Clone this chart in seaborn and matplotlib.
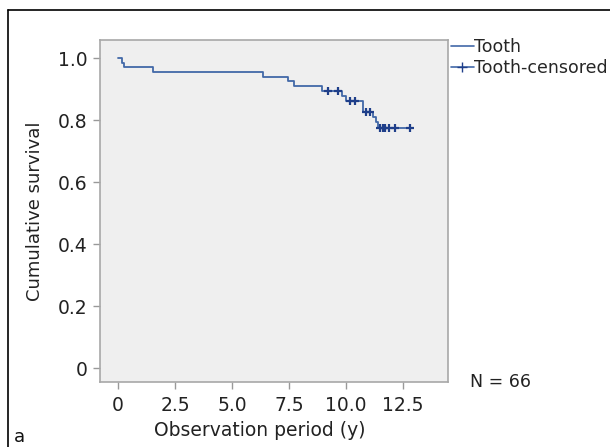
import matplotlib
matplotlib.use("Agg")
import matplotlib.pyplot as plt
import numpy as np
import pandas as pd
import seaborn as sns
from matplotlib.lines import Line2D

# Kaplan-Meier steps
STEP_TIMES = [0.0, 0.16, 0.26, 1.52, 6.36, 7.46, 7.72, 8.97, 9.85, 10.0, 10.76, 11.2, 11.3, 11.42, 12.9]
SURVIVAL = [1.0, 0.985, 0.970, 0.955, 0.940, 0.925, 0.910, 0.895, 0.877, 0.860, 0.825, 0.809, 0.795, 0.774, 0.774]
# censored observations
CENSOR_TIMES = [9.22, 9.66, 10.18, 10.39, 10.88, 11.05, 11.49, 11.61, 11.71, 11.9, 12.15, 12.81]

X_TICKS = [0, 2.5, 5.0, 7.5, 10.0, 12.5]
X_TICK_LABELS = ["0", "2.5", "5.0", "7.5", "10.0", "12.5"]
Y_TICKS = [0, 0.2, 0.4, 0.6, 0.8, 1.0]
Y_TICK_LABELS = ["0", "0.2", "0.4", "0.6", "0.8", "1.0"]

LINE_COLOR = "#4268a8"
MARK_COLOR = "#1f3f8a"

sns.set_style("white")
plt.rcParams["font.family"] = ["DejaVu Sans"]

steps = pd.DataFrame({"time": STEP_TIMES, "survival": SURVIVAL})
idx = np.searchsorted(STEP_TIMES, CENSOR_TIMES, side="right") - 1
censored = pd.DataFrame({"time": CENSOR_TIMES,
                         "survival": [SURVIVAL[i] for i in idx]})

fig = plt.figure(figsize=(6.10, 4.47), dpi=100)
ax = fig.add_axes([0.164, 0.1454, 0.570, 0.765])
ax.set_facecolor("#efefef")

sns.lineplot(data=steps, x="time", y="survival", drawstyle="steps-post",
             estimator=None, sort=False, color=LINE_COLOR, linewidth=1.3, ax=ax)
sns.scatterplot(data=censored, x="time", y="survival", marker="+", s=40,
                color=MARK_COLOR, linewidth=1.6, ax=ax, zorder=3)

ax.set_xlim(-0.79, 14.47)
ax.set_ylim(-0.045, 1.058)
ax.set_xticks(X_TICKS)
ax.set_xticklabels(X_TICK_LABELS)
ax.set_yticks(Y_TICKS)
ax.set_yticklabels(Y_TICK_LABELS)
ax.tick_params(axis="both", labelsize=13.5, colors="#999999", length=5,
               width=1, direction="out", labelcolor="#222222", left=True, bottom=True)
ax.tick_params(axis="x", pad=5)
ax.tick_params(axis="y", pad=4)

for spine in ax.spines.values():
    spine.set_color("#a8a8a8")
    spine.set_linewidth(1.2)

ax.set_xlabel("Observation period (y)", fontsize=13.5, color="#222222")
ax.xaxis.set_label_coords(0.46, -0.115)
ax.set_ylabel("Cumulative survival", fontsize=13, color="#222222")
ax.yaxis.set_label_coords(-0.16, 0.5)

handles = [Line2D([], [], color=LINE_COLOR, linewidth=1.2),
           Line2D([], [], color=LINE_COLOR, linewidth=1.2, marker="+",
                  markersize=7, markeredgecolor=MARK_COLOR)]
fig.legend(handles, ["Tooth", "Tooth-censored"], loc="upper left",
           bbox_to_anchor=(0.728, 0.93), frameon=False, fontsize=12.5,
           handlelength=1.3, handletextpad=0.05, labelspacing=0.15,
           borderaxespad=0)

fig.text(0.77, 0.145, "N = 66", fontsize=12.5, color="#222222", va="center")
fig.text(0.022, 0.022, "a", fontsize=13, color="#111111", va="center")

# outer frame of the figure panel
fig.add_artist(Line2D([8 / 610, 8 / 610], [0, 1 - 10 / 447], color="black",
                      linewidth=1.2, transform=fig.transFigure))
fig.add_artist(Line2D([8 / 610, 1], [1 - 10 / 447, 1 - 10 / 447], color="black",
                      linewidth=1.2, transform=fig.transFigure))

fig.savefig("out.png", dpi=100)
